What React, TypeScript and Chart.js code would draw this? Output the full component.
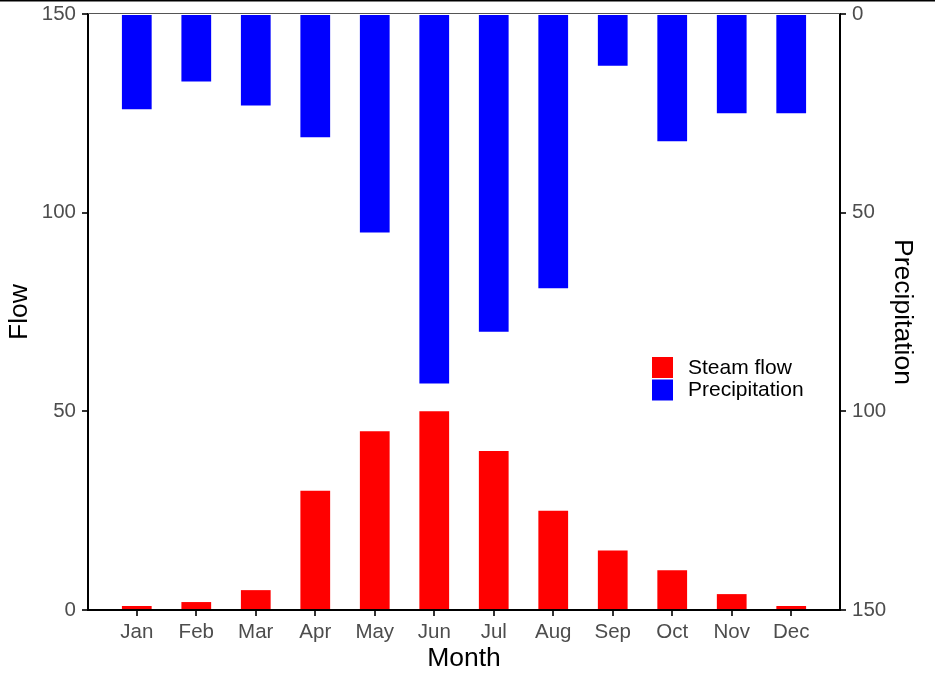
import React, { useEffect, useRef } from "react";
import { Chart, registerables } from "chart.js";

Chart.register(...registerables);

const months = ["Jan", "Feb", "Mar", "Apr", "May", "Jun", "Jul", "Aug", "Sep", "Oct", "Nov", "Dec"];
const flow = [1, 2, 5, 30, 45, 50, 40, 25, 15, 10, 4, 1];
const precipitation = [24, 17, 23, 31, 55, 93, 80, 69, 13, 32, 25, 25];
const yTicks = [0, 50, 100, 150];

const FONT = "'Liberation Sans', Arial, sans-serif";

const decorPlugin = {
  id: "decor",
  afterDraw(chart: any) {
    const ctx = chart.ctx;
    const ca = chart.chartArea;
    ctx.save();
    ctx.fillStyle = "#000";
    ctx.fillRect(0, 0, chart.width, 1.5);
    ctx.strokeStyle = "#555";
    ctx.lineWidth = 1.2;
    ctx.beginPath();
    ctx.moveTo(ca.left, ca.top - 0.5);
    ctx.lineTo(ca.right, ca.top - 0.5);
    ctx.stroke();
    const items = chart.data.datasets;
    const x0 = 652;
    let y0 = 357;
    ctx.font = `21px ${FONT}`;
    ctx.textBaseline = "middle";
    ctx.textAlign = "left";
    items.forEach((ds: any) => {
      ctx.fillStyle = ds.backgroundColor;
      ctx.fillRect(x0, y0, 21, 21);
      ctx.fillStyle = "#000";
      ctx.fillText(ds.label, x0 + 36, y0 + 11);
      y0 += 22.5;
    });
    ctx.restore();
  },
};

export default function App() {
  const ref = useRef<HTMLCanvasElement>(null);
  useEffect(() => {
    document.body.style.margin = "0";
    const canvas = ref.current!;
    const tickFont = { family: FONT, size: 20.5 };
    const titleFont = { family: FONT, size: 26.5, lineHeight: 1 };
    const noPadV = (s: any) => {
      s.paddingTop = 0;
      s.paddingBottom = 0;
    };
    const chart = new Chart(canvas, {
      type: "bar",
      data: {
        datasets: [
          {
            label: "Steam flow",
            data: flow.map((v, i) => ({ x: i + 1, y: v })),
            backgroundColor: "#ff0000",
            yAxisID: "y",
            grouped: false,
            barPercentage: 0.5,
            categoryPercentage: 1,
          } as any,
          {
            label: "Precipitation",
            data: precipitation.map((v, i) => ({ x: i + 1, y: v })),
            backgroundColor: "#0000ff",
            yAxisID: "y2",
            grouped: false,
            barPercentage: 0.5,
            categoryPercentage: 1,
          } as any,
        ],
      },
      options: {
        responsive: false,
        animation: false,
        devicePixelRatio: 1,
        layout: { padding: { top: 14, left: 0, right: 0, bottom: 0 } },
        plugins: { legend: { display: false }, tooltip: { enabled: false } },
        scales: {
          x: {
            type: "linear",
            offset: false,
            min: 0.18,
            max: 12.82,
            afterBuildTicks: (s: any) => {
              s.ticks = months.map((_, i) => ({ value: i + 1 }));
            },
            afterFit: (s: any) => {
              s.height = 76;
              s.paddingLeft = 0;
              s.paddingRight = 0;
            },
            ticks: {
              autoSkip: false,
              maxRotation: 0,
              font: tickFont,
              color: "#4d4d4d",
              padding: 4,
              callback: (v: any) => months[Number(v) - 1] ?? "",
            },
            grid: { offset: false, drawOnChartArea: false, drawTicks: true, tickLength: 6, color: "#333", lineWidth: 2 },
            border: { display: true, color: "#000", width: 2 },
            title: { display: true, text: "Month", font: titleFont, color: "#000", padding: { top: 0, bottom: 14 } },
          },
          y: {
            type: "linear",
            position: "left",
            min: 0,
            max: 150,
            afterBuildTicks: (s: any) => {
              s.ticks = yTicks.map((v) => ({ value: v }));
            },
            afterFit: (s: any) => {
              s.width = 88;
              noPadV(s);
            },
            ticks: { font: tickFont, color: "#4d4d4d", padding: 6 },
            grid: { drawOnChartArea: false, drawTicks: true, tickLength: 6, color: "#333", lineWidth: 2 },
            border: { display: true, color: "#000", width: 2 },
            title: { display: true, text: "Flow", font: titleFont, color: "#000", padding: { top: 6, bottom: 0 } },
          },
          y2: {
            type: "linear",
            position: "right",
            reverse: true,
            min: 0,
            max: 150,
            afterBuildTicks: (s: any) => {
              s.ticks = yTicks.map((v) => ({ value: v }));
            },
            afterFit: (s: any) => {
              s.width = 95;
              noPadV(s);
            },
            ticks: { font: tickFont, color: "#4d4d4d", padding: 6 },
            grid: { drawOnChartArea: false, drawTicks: true, tickLength: 6, color: "#333", lineWidth: 2 },
            border: { display: true, color: "#000", width: 2 },
            title: { display: true, text: "Precipitation", font: titleFont, color: "#000", padding: { top: 19.5, bottom: 0 } },
          },
        },
      } as any,
      plugins: [decorPlugin],
    });
    return () => chart.destroy();
  }, []);
  return (
    <div style={{ width: 935, height: 686 }}>
      <canvas ref={ref} width={935} height={686} style={{ display: "block" }} />
    </div>
  );
}
